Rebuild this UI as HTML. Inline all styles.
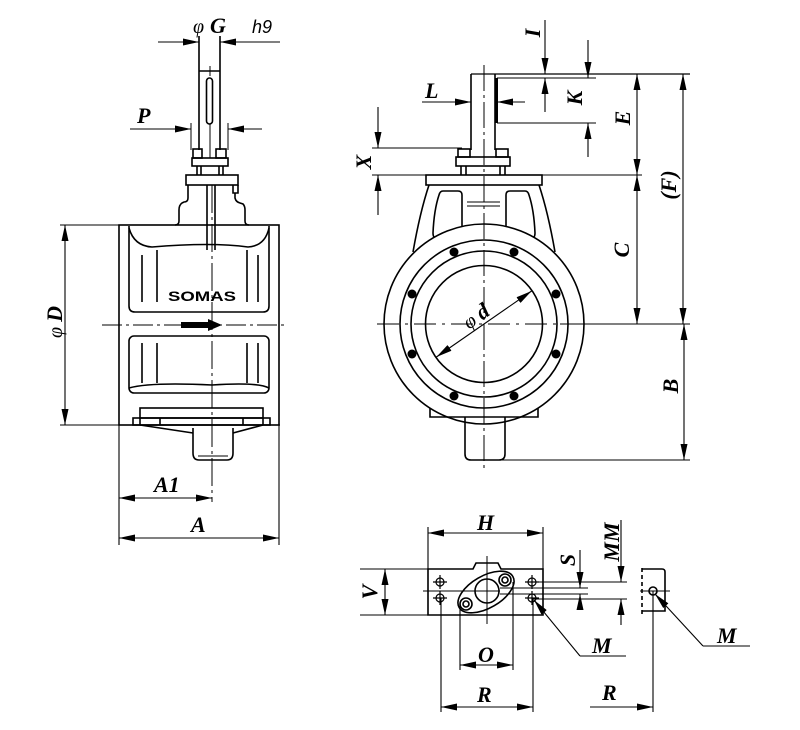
<!DOCTYPE html>
<html><head><meta charset="utf-8"><style>
html,body{margin:0;padding:0;background:#fff;}
svg{display:block}
.t{font-family:"Liberation Serif",serif;font-weight:bold;font-style:italic;fill:#000;stroke:none;font-size:22px}
.n{font-family:"Liberation Serif",serif;font-style:italic;font-weight:normal;fill:#000;stroke:none}
</style></head><body>
<svg width="800" height="730" viewBox="0 0 800 730" xmlns="http://www.w3.org/2000/svg">
<defs>
<marker id="a" viewBox="0 0 16 7" refX="16" refY="3.5" markerWidth="16" markerHeight="7" markerUnits="userSpaceOnUse" orient="auto-start-reverse"><path d="M0,0 L16,3.5 L0,7 z" fill="#000"/></marker>
</defs>

<!-- ============ LEFT VIEW ============ -->
<g fill="none" stroke="#000" stroke-width="1.6">
  <line x1="199" y1="36" x2="199" y2="150"/>
  <line x1="220" y1="36" x2="220" y2="150"/>
  <line x1="199" y1="71" x2="220" y2="71"/>
  <rect x="206.5" y="78" width="6" height="46" rx="3"/>
  <line x1="210" y1="66" x2="210" y2="76" stroke-width="1"/>
  <line x1="210" y1="124" x2="210" y2="158" stroke-width="1"/>
  <line x1="191" y1="123" x2="191" y2="150" stroke-width="1"/>
  <line x1="228" y1="123" x2="228" y2="150" stroke-width="1"/>
  <rect x="193" y="149" width="9" height="9"/>
  <rect x="216" y="149" width="10" height="9"/>
  <rect x="192" y="158" width="36" height="8"/>
  <line x1="197" y1="166" x2="197" y2="175"/>
  <line x1="201" y1="166" x2="201" y2="175"/>
  <line x1="219" y1="166" x2="219" y2="175"/>
  <line x1="223" y1="166" x2="223" y2="175"/>
  <rect x="186" y="175" width="52" height="10"/>
  <path d="M233,185 L233,193 L238,193 L238,185"/>
  <path d="M188,185 L188,198 Q188,202 184,202 L182,203 Q179,205 179,210 L179,221 Q179,225 175,225"/>
  <path d="M235,193 L235,198 Q236,202 240,203 L243,204 Q245,206 245,210 L245,221 Q245,225 249,225"/>
  <line x1="207" y1="185" x2="207" y2="250"/>
  <line x1="215" y1="185" x2="215" y2="250"/>
  <rect x="119" y="225" width="160" height="200"/>
  <path d="M129,226 L129,306 Q129,312 135,312 L263,312 Q269,312 269,306 L269,226"/>
  <path d="M129,228 Q134,246 152,247 Q212,242 248,247 Q265,246 269,228"/>
  <line x1="142" y1="255" x2="142" y2="302"/>
  <line x1="157" y1="250" x2="157" y2="302"/>
  <line x1="247" y1="250" x2="247" y2="302"/>
  <line x1="258" y1="255" x2="258" y2="302"/>
  <rect x="129" y="336" width="140" height="57" rx="5"/>
  <path d="M129,388 Q150,382 212,385 Q258,382 269,388"/>
  <line x1="142" y1="343" x2="142" y2="383"/>
  <line x1="157" y1="343" x2="157" y2="383"/>
  <line x1="247" y1="343" x2="247" y2="383"/>
  <line x1="258" y1="343" x2="258" y2="383"/>
  <rect x="140" y="408" width="123" height="10"/>
  <rect x="133" y="418" width="137" height="7"/>
  <line x1="140" y1="418" x2="140" y2="425"/>
  <line x1="263" y1="418" x2="263" y2="425"/>
  <line x1="160" y1="418" x2="160" y2="425"/>
  <line x1="243" y1="418" x2="243" y2="425"/>
  <line x1="140" y1="425" x2="193" y2="433"/>
  <line x1="263" y1="425" x2="233" y2="433"/>
  <path d="M193,428 L193,453 Q193,460 199,460 L227,460 Q233,460 233,453 L233,428"/>
  <line x1="198" y1="456" x2="228" y2="456" stroke-width="1"/>
  <line x1="212" y1="185" x2="212" y2="502" stroke-width="1" stroke-dasharray="28,4,3,4"/>
  <line x1="102" y1="325" x2="288" y2="325" stroke-width="1" stroke-dasharray="20,4,3,4"/>
  <g stroke-width="1.1">
    <line x1="158" y1="42" x2="199" y2="42" marker-end="url(#a)"/>
    <line x1="280" y1="42" x2="220" y2="42" marker-end="url(#a)"/>
    <line x1="130" y1="129" x2="191" y2="129" marker-end="url(#a)"/>
    <line x1="262" y1="129" x2="228" y2="129" marker-end="url(#a)"/>
    <line x1="60" y1="225" x2="119" y2="225"/>
    <line x1="60" y1="425" x2="280" y2="425"/>
    <line x1="65" y1="225" x2="65" y2="425" marker-start="url(#a)" marker-end="url(#a)"/>
    <line x1="119" y1="425" x2="119" y2="545"/>
    <line x1="279" y1="425" x2="279" y2="545"/>
    <line x1="119" y1="498" x2="212" y2="498" marker-start="url(#a)" marker-end="url(#a)"/>
    <line x1="119" y1="538" x2="279" y2="538" marker-start="url(#a)" marker-end="url(#a)"/>
  </g>
</g>
<path d="M181,322 L208,322 L208,319 L222,325 L208,331 L208,328 L181,328 z" fill="#000"/>
<text x="202" y="301" font-family="Liberation Sans, sans-serif" font-weight="bold" font-size="14" text-anchor="middle" textLength="68" lengthAdjust="spacingAndGlyphs">SOMAS</text>

<text x="193" y="33" class="n" font-size="20">φ</text>
<text x="210" y="33" class="t" font-size="22" font-style="normal">G</text>
<text x="252" y="33" font-family="Liberation Sans, sans-serif" font-style="italic" font-size="18">h9</text>
<text x="137" y="123" class="t">P</text>
<g transform="translate(62,322) rotate(-90)"><text x="0" y="0" text-anchor="middle"><tspan class="n" font-size="20">φ </tspan><tspan class="t">D</tspan></text></g>
<text x="154" y="492" class="t">A1</text>
<text x="191" y="532" class="t">A</text>

<!-- ============ RIGHT VIEW ============ -->
<g fill="none" stroke="#000" stroke-width="1.6">
  <line x1="471" y1="74" x2="471" y2="150"/>
  <line x1="495" y1="74" x2="495" y2="150"/>
  <line x1="471" y1="74" x2="690" y2="74" stroke-width="1.2"/>
  <line x1="496.5" y1="78" x2="496.5" y2="123" stroke-width="3"/>
  <line x1="497" y1="78" x2="596" y2="78" stroke-width="1"/>
  <line x1="497" y1="123" x2="596" y2="123" stroke-width="1"/>
  <rect x="458" y="149" width="12" height="8"/>
  <rect x="496" y="149" width="12" height="8"/>
  <rect x="456" y="157" width="54" height="9"/>
  <line x1="461" y1="166" x2="461" y2="175"/>
  <line x1="466" y1="166" x2="466" y2="175"/>
  <line x1="500" y1="166" x2="500" y2="175"/>
  <line x1="505" y1="166" x2="505" y2="175"/>
  <rect x="426" y="175" width="116" height="10"/>
  <path d="M429,185 Q420,212 413,252"/>
  <path d="M539,185 Q548,212 555,252"/>
  <path d="M443,191 L458,191 Q462,191 462,195 L462,231 Q450,234 438,238 Q433,239 433,233 Q434,210 439,195 Q440,191 443,191 z"/>
  <path d="M525,191 L510,191 Q506,191 506,195 L506,231 Q518,234 530,238 Q535,239 535,233 Q534,210 529,195 Q528,191 525,191 z"/>
  <line x1="467" y1="202" x2="500" y2="202" stroke-width="1"/>
  <line x1="467" y1="206" x2="500" y2="206" stroke-width="1"/>
  <circle cx="484" cy="324" r="100" fill="#fff"/>
  <circle cx="484" cy="324" r="84"/>
  <circle cx="484" cy="324" r="73"/>
  <circle cx="484" cy="324" r="58.5"/>
  <path d="M430,408 L430,417 L538,417 L538,408"/>
  <path d="M465,417 L465,454 Q465,460 471,460 L499,460 Q505,460 505,454 L505,417"/>
  <line x1="484" y1="65" x2="484" y2="470" stroke-width="1" stroke-dasharray="26,4,3,4"/>
  <line x1="377" y1="324" x2="560" y2="324" stroke-width="1" stroke-dasharray="22,6,3,6"/>
  <line x1="560" y1="324" x2="690" y2="324" stroke-width="1"/>
  <line x1="484" y1="460" x2="690" y2="460" stroke-width="1"/>
  <g stroke-width="1.1">
    <line x1="372" y1="148" x2="462" y2="148"/>
    <line x1="372" y1="175" x2="642" y2="175"/>
    <line x1="378" y1="107" x2="378" y2="148" marker-end="url(#a)"/>
    <line x1="378" y1="215" x2="378" y2="175" marker-end="url(#a)"/>
    <line x1="422" y1="102" x2="471" y2="102" marker-end="url(#a)"/>
    <line x1="525" y1="102" x2="497" y2="102" marker-end="url(#a)"/>
    <line x1="545" y1="20" x2="545" y2="74" marker-end="url(#a)"/>
    <line x1="545" y1="112" x2="545" y2="78" marker-end="url(#a)"/>
    <line x1="588" y1="40" x2="588" y2="78" marker-end="url(#a)"/>
    <line x1="588" y1="157" x2="588" y2="123" marker-end="url(#a)"/>
    <line x1="637" y1="74" x2="637" y2="175" marker-start="url(#a)" marker-end="url(#a)"/>
    <line x1="637" y1="175" x2="637" y2="324" marker-start="url(#a)" marker-end="url(#a)"/>
    <line x1="683" y1="74" x2="683" y2="324" marker-start="url(#a)" marker-end="url(#a)"/>
    <line x1="684" y1="324" x2="684" y2="460" marker-start="url(#a)" marker-end="url(#a)"/>
    <line x1="436.4" y1="357" x2="531.6" y2="291" marker-start="url(#a)" marker-end="url(#a)"/>
  </g>
</g>
<g fill="#000">
  <circle cx="454" cy="252" r="4.5"/><circle cx="514" cy="252" r="4.5"/>
  <circle cx="412" cy="294" r="4.5"/><circle cx="556" cy="294" r="4.5"/>
  <circle cx="412" cy="354" r="4.5"/><circle cx="556" cy="354" r="4.5"/>
  <circle cx="454" cy="396" r="4.5"/><circle cx="514" cy="396" r="4.5"/>
</g>
<text x="425" y="98" class="t">L</text>
<g transform="translate(371,162) rotate(-90)"><text class="t" text-anchor="middle">X</text></g>
<g transform="translate(540,33) rotate(-90)"><text class="t" text-anchor="middle">I</text></g>
<g transform="translate(582,98) rotate(-90)"><text class="t" text-anchor="middle">K</text></g>
<g transform="translate(630,118) rotate(-90)"><text class="t" text-anchor="middle">E</text></g>
<g transform="translate(629,250) rotate(-90)"><text class="t" text-anchor="middle">C</text></g>
<g transform="translate(676,185) rotate(-90)"><text class="t" text-anchor="middle">(F)</text></g>
<g transform="translate(678,386) rotate(-90)"><text class="t" text-anchor="middle">B</text></g>
<g transform="translate(480,322) rotate(-35)"><text x="0" y="0" text-anchor="middle"><tspan class="n" font-size="20">φ </tspan><tspan class="t" font-style="normal" font-size="24">d</tspan></text></g>

<!-- ============ BOTTOM DETAIL ============ -->
<g fill="none" stroke="#000" stroke-width="1.6">
  <path d="M428,569 L473,569 L476,563 L498,563 L501,569 L543,569 L543,615 L428,615 z"/>
  <line x1="487" y1="556" x2="487" y2="624" stroke-width="1"/>
  <line x1="423" y1="591" x2="500" y2="591" stroke-width="1"/>
  <ellipse cx="486" cy="592" rx="31" ry="16" transform="rotate(-30 486 592)"/>
  <circle cx="487" cy="591" r="12"/>
  <circle cx="505" cy="580" r="6"/><circle cx="505" cy="580" r="3"/>
  <circle cx="466" cy="604" r="6"/><circle cx="466" cy="604" r="3"/>
  <g stroke-width="1.2">
    <circle cx="440" cy="582" r="4"/><circle cx="440" cy="598" r="4"/>
    <circle cx="532" cy="582" r="4"/><circle cx="532" cy="598" r="4"/>
    <path d="M433,582 H447 M440,575 V589 M433,598 H447 M440,591 V605 M525,582 H539 M532,575 V589 M525,598 H539 M532,591 V605"/>
  </g>
  <g stroke-width="1.1">
    <line x1="428" y1="527" x2="428" y2="569"/>
    <line x1="543" y1="527" x2="543" y2="569"/>
    <line x1="428" y1="533" x2="543" y2="533" marker-start="url(#a)" marker-end="url(#a)"/>
    <line x1="360" y1="569" x2="428" y2="569"/>
    <line x1="360" y1="615" x2="428" y2="615"/>
    <line x1="385" y1="569" x2="385" y2="615" marker-start="url(#a)" marker-end="url(#a)"/>
    <line x1="460" y1="604" x2="460" y2="670"/>
    <line x1="513" y1="582" x2="513" y2="670"/>
    <line x1="460" y1="665" x2="513" y2="665" marker-start="url(#a)" marker-end="url(#a)"/>
    <line x1="441" y1="598" x2="441" y2="712"/>
    <line x1="533" y1="598" x2="533" y2="712"/>
    <line x1="441" y1="707" x2="533" y2="707" marker-start="url(#a)" marker-end="url(#a)"/>
    <line x1="532" y1="582" x2="627" y2="582"/>
    <line x1="532" y1="599" x2="627" y2="599"/>
    <line x1="500" y1="588" x2="588" y2="588"/>
    <line x1="500" y1="594" x2="588" y2="594"/>
    <line x1="580" y1="550" x2="580" y2="588" marker-end="url(#a)"/>
    <line x1="580" y1="610" x2="580" y2="594" marker-end="url(#a)"/>
    <line x1="621" y1="520" x2="621" y2="582" marker-end="url(#a)"/>
    <line x1="621" y1="625" x2="621" y2="599" marker-end="url(#a)"/>
    <line x1="580" y1="656" x2="534" y2="600" marker-end="url(#a)"/>
    <line x1="580" y1="656" x2="626" y2="656"/>
  </g>
  <line x1="642" y1="568" x2="642" y2="617" stroke-dasharray="4,3"/>
  <path d="M642,569 L662,569 Q665,569 665,572 L665,611 L642,611"/>
  <circle cx="653" cy="591" r="4"/>
  <line x1="640" y1="591" x2="670" y2="591" stroke-width="1"/>
  <g stroke-width="1.1">
    <line x1="653" y1="591" x2="653" y2="712"/>
    <line x1="590" y1="707" x2="653" y2="707" marker-end="url(#a)"/>
    <line x1="703" y1="646" x2="655" y2="594" marker-end="url(#a)"/>
    <line x1="703" y1="646" x2="750" y2="646"/>
  </g>
</g>
<text x="477" y="530" class="t">H</text>
<g transform="translate(377,592) rotate(-90)"><text class="t" text-anchor="middle">V</text></g>
<g transform="translate(575,560) rotate(-90)"><text class="t" text-anchor="middle">S</text></g>
<g transform="translate(619,542) rotate(-90)"><text class="t" text-anchor="middle">MM</text></g>
<text x="592" y="653" class="t">M</text>
<text x="717" y="643" class="t">M</text>
<text x="478" y="662" class="t">O</text>
<text x="477" y="702" class="t">R</text>
<text x="602" y="700" class="t">R</text>
</svg>
</body></html>
